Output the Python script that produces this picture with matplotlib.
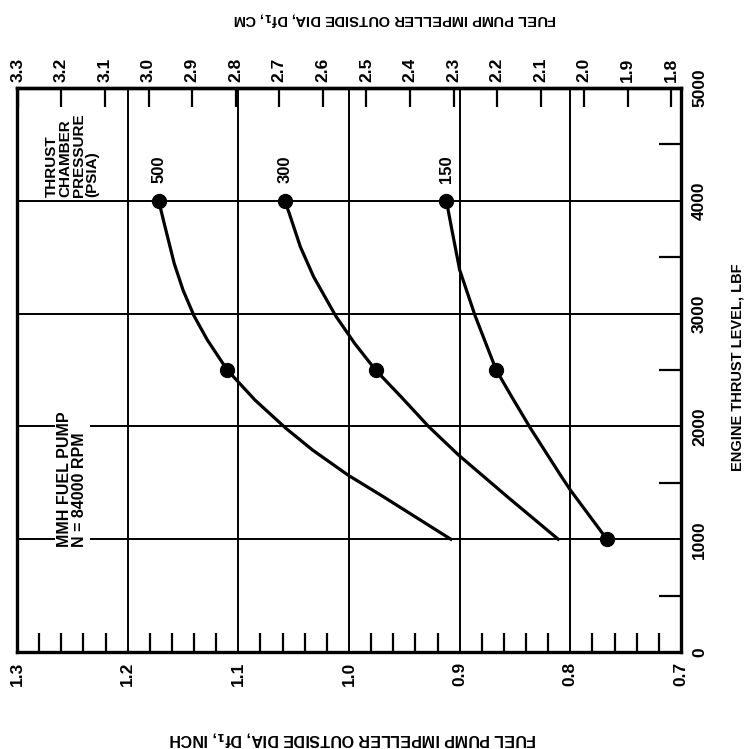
import numpy as np
import matplotlib.pyplot as plt
from matplotlib.ticker import MultipleLocator, FixedLocator

plt.rcParams['font.family'] = ['Liberation Sans', 'DejaVu Sans']
plt.rcParams['font.weight'] = 'bold'

# 读图得到的数据: 推力 (lbf) 与叶轮外径 (inch)
thrust_500 = [1000, 1111, 1377, 1569, 1791, 1983, 2234, 2500, 2766, 2979, 3209, 3446, 3800, 4000]
dia_500 = [0.908, 0.926, 0.969, 1.001, 1.033, 1.057, 1.085, 1.110, 1.128, 1.140,
           1.150, 1.158, 1.167, 1.172]
thrust_300 = [1000, 1377, 1746, 1998, 2263, 2500, 2737, 2979, 3327, 3593, 3889, 4000]
dia_300 = [0.811, 0.857, 0.901, 0.928, 0.953, 0.976, 0.995, 1.012, 1.032, 1.044,
           1.054, 1.058]
thrust_150 = [1000, 1436, 1554, 1983, 2263, 2500, 2979, 3387, 3741, 4000]
dia_150 = [0.767, 0.800, 0.808, 0.836, 0.853, 0.867, 0.886, 0.900, 0.907, 0.912]

# 标记点
dots_500 = [2500, 4000]
dots_300 = [2500, 4000]
dots_150 = [1000, 2500, 4000]

pressures = ['500', '300', '150']
inch_ticks = [0.7, 0.8, 0.9, 1.0, 1.1, 1.2, 1.3]
inch_labels = ['0.7', '0.8', '0.9', '1.0', '1.1', '1.2', '1.3']
cm_ticks = [1.8, 1.9, 2.0, 2.1, 2.2, 2.3, 2.4, 2.5, 2.6, 2.7, 2.8, 2.9, 3.0, 3.1, 3.2, 3.3]
cm_labels = ['1.8', '1.9', '2.0', '2.1', '2.2', '2.3', '2.4', '2.5', '2.6', '2.7', '2.8',
             '2.9', '3.0', '3.1', '3.2', '3.3']
thrust_ticks = [0, 1000, 2000, 3000, 4000, 5000]

fig = plt.figure(figsize=(7.53, 7.49), dpi=100)
ax = fig.add_axes([0.0226, 0.1295, 0.8818, 0.753])

# 图是旋转90度的: 横轴是直径(反向), 纵轴是推力
ax.set_xlim(1.3, 0.7)
ax.set_ylim(0, 5000)

ax.set_xticks(inch_ticks)
ax.set_xticklabels(inch_labels, rotation=90, fontsize=12.5, fontweight='bold')
ax.xaxis.set_minor_locator(MultipleLocator(0.02))
ax.tick_params(axis='x', which='major', length=0, pad=7)
ax.tick_params(axis='x', which='minor', direction='in', length=14, width=1.6)

ax.set_yticks(thrust_ticks)
ax.set_yticklabels([str(t) for t in thrust_ticks], rotation=90, va='center',
                   fontsize=12.5, fontweight='bold')
ax.yaxis.tick_right()
ax.yaxis.set_minor_locator(FixedLocator([500, 1500, 2500, 3500, 4500]))
ax.tick_params(axis='y', which='major', length=0, pad=8)
ax.tick_params(axis='y', which='minor', direction='in', length=16, width=1.6)

ax.grid(which='major', color='black', linewidth=1.4)
for s in ax.spines.values():
    s.set_linewidth(2.4)

# 顶部厘米刻度
sec = ax.secondary_xaxis('top', functions=(lambda x: x * 2.54, lambda x: x / 2.54))
sec.set_xticks(cm_ticks)
sec.set_xticklabels(cm_labels, rotation=90, fontsize=12.5, fontweight='bold')
sec.tick_params(direction='in', length=14, width=1.6, pad=4)
sec.spines['top'].set_linewidth(2.4)

# 曲线
for th, d, dots, lab in [(thrust_500, dia_500, dots_500, pressures[0]),
                         (thrust_300, dia_300, dots_300, pressures[1]),
                         (thrust_150, dia_150, dots_150, pressures[2])]:
    ax.plot(d, th, color='black', linewidth=2.3, solid_joinstyle='round')
    dd = np.interp(dots, th, d)
    ax.plot(dd, dots, 'o', color='black', markersize=10)
    ax.annotate(lab, (dd[-1], dots[-1]), xytext=(0, 13), textcoords='offset points',
                rotation=90, ha='center', va='bottom', fontsize=12, fontweight='bold')

ax.text(1.25, 4030, 'THRUST\nCHAMBER\nPRESSURE\n(PSIA)', rotation=90,
        rotation_mode='anchor', ha='left', va='center', fontsize=11,
        fontweight='bold', linespacing=0.95,
        bbox=dict(facecolor='white', edgecolor='none', pad=2))
ax.text(1.25, 935, 'MMH FUEL PUMP\nN = 84000 RPM', rotation=90,
        rotation_mode='anchor', ha='left', va='center', fontsize=11.5,
        fontweight='bold', linespacing=1.0,
        bbox=dict(facecolor='white', edgecolor='none', pad=2))

fig.text(0.525, 0.975, 'FUEL PUMP IMPELLER OUTSIDE DIA, Df$_1$, CM', rotation=180,
         ha='center', va='center', fontsize=10.5, fontweight='bold')
fig.text(0.468, 0.015, 'FUEL PUMP IMPELLER OUTSIDE DIA, Df$_1$, INCH', rotation=180,
         ha='center', va='center', fontsize=11.5, fontweight='bold')
fig.text(0.979, 0.51, 'ENGINE THRUST LEVEL, LBF', rotation=90,
         ha='center', va='center', fontsize=10.5, fontweight='bold')

plt.savefig('out.png', dpi=100)
